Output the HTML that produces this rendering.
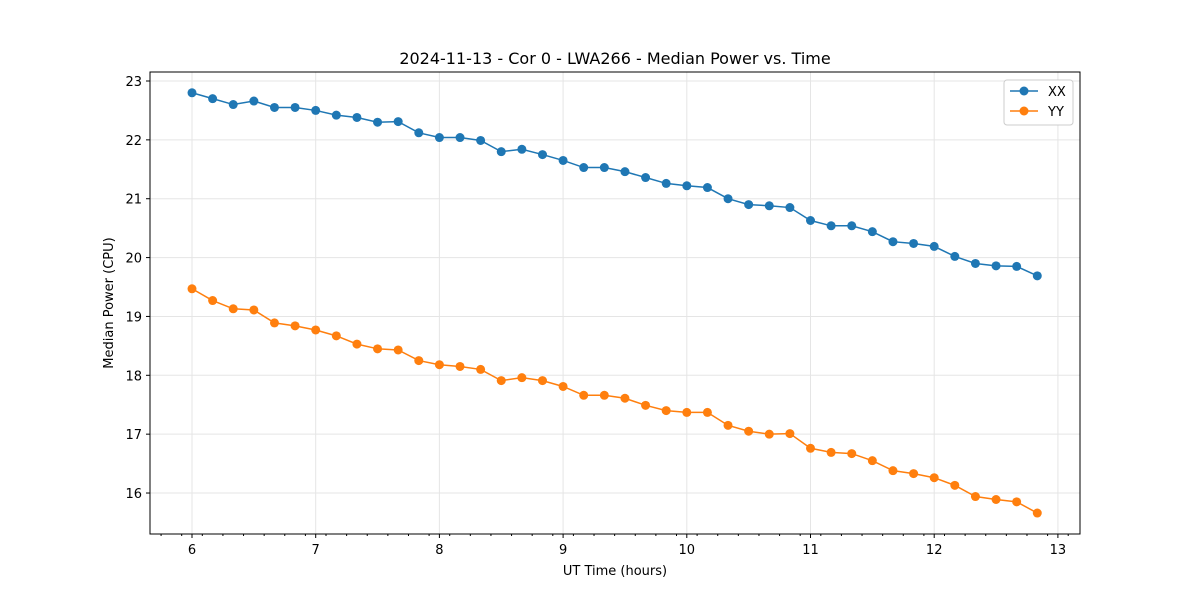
<!DOCTYPE html>
<html><head><meta charset="utf-8"><style>
body{margin:0;background:#fff;font-family:"Liberation Sans","DejaVu Sans",sans-serif;}
svg text{font-family:"DejaVu Sans","Liberation Sans",sans-serif;}
</style></head><body>
<svg id="chart" width="1200" height="600" xmlns="http://www.w3.org/2000/svg">
<rect width="1200" height="600" fill="#fff"/>
<text x="615" y="64" font-size="16" text-anchor="middle">2024-11-13 - Cor 0 - LWA266 - Median Power vs. Time</text>
<g id="grid"></g><g id="axes"></g><g id="series"></g>
<rect x="150" y="72" width="930" height="462" fill="none" stroke="#000" stroke-width="1"/>
<text x="615" y="575" font-size="13" text-anchor="middle">UT Time (hours)</text>
<text transform="translate(113,303) rotate(-90)" font-size="13" text-anchor="middle">Median Power (CPU)</text>
<g>
<rect x="1004" y="80" width="69" height="45" rx="3" fill="#fff" stroke="#ccc"/>
<g><line x1="1010" y1="91" x2="1038" y2="91" stroke="#1f77b4" stroke-width="1.5"/><circle cx="1024" cy="91" r="4.5" fill="#1f77b4"/><text x="1048" y="96" font-size="13">XX</text></g>
<g><line x1="1010" y1="111" x2="1038" y2="111" stroke="#ff7f0e" stroke-width="1.5"/><circle cx="1024" cy="111" r="4.5" fill="#ff7f0e"/><text x="1048" y="116" font-size="13">YY</text></g>
</g>
</svg>
<script>
const xxValues=[22.80,22.70,22.60,22.66,22.55,22.55,22.50,22.42,22.38,22.30,22.31,22.12,22.04,22.04,21.99,21.80,21.84,21.75,21.65,21.53,21.53,21.46,21.36,21.26,21.22,21.19,21.00,20.90,20.88,20.85,20.63,20.54,20.54,20.44,20.27,20.24,20.19,20.02,19.90,19.86,19.85,19.69];
const yyValues=[19.47,19.27,19.13,19.11,18.89,18.84,18.77,18.67,18.53,18.45,18.43,18.25,18.18,18.15,18.10,17.91,17.96,17.91,17.81,17.66,17.66,17.61,17.49,17.40,17.37,17.37,17.15,17.05,17.00,17.01,16.76,16.69,16.67,16.55,16.38,16.33,16.26,16.13,15.94,15.89,15.85,15.66];
const startHour=6, stepHours=1/6;
const xTicks=[6,7,8,9,10,11,12,13];
const yTicks=[16,17,18,19,20,21,22,23];
const NS="http://www.w3.org/2000/svg";
const xs=h=>192+(h-6)*123.7;
const ys=v=>81+(23-v)*58.86;
function mk(tag,attrs,parent){const e=document.createElementNS(NS,tag);for(const k in attrs)e.setAttribute(k,attrs[k]);document.getElementById(parent).appendChild(e);return e;}
xTicks.forEach(t=>{
 const g=mk('line',{x1:xs(t),x2:xs(t),y1:72,y2:534,stroke:'#e5e5e5','stroke-width':1},'grid');
 
 
 mk('line',{x1:xs(t),x2:xs(t),y1:534,y2:538,stroke:'#000'},'axes');
 const l=mk('text',{x:xs(t),y:554,'font-size':13,'text-anchor':'middle'},'axes');l.textContent=t;
 
 
});
for(let m=5.75;m<=13.1;m+=1/6){const x=xs(m);if(x>150&&x<1080)mk('line',{x1:x,x2:x,y1:534,y2:536,stroke:'#000'},'axes');}
yTicks.forEach(t=>{
 const g=mk('line',{x1:150,x2:1080,y1:ys(t),y2:ys(t),stroke:'#e5e5e5','stroke-width':1},'grid');
 
 
 mk('line',{x1:146,x2:150,y1:ys(t),y2:ys(t),stroke:'#000'},'axes');
 const l=mk('text',{x:142,y:ys(t)+5,'font-size':13,'text-anchor':'end'},'axes');l.textContent=t;
 
 
});
function series(vals,color,name){
 const pts=vals.map((v,i)=>xs(startHour+i*stepHours)+','+ys(v)).join(' ');
 const p=mk('polyline',{points:pts,fill:'none',stroke:color,'stroke-width':1.5},'series');
 
 
 vals.forEach((v,i)=>{
  const c=mk('circle',{cx:xs(startHour+i*stepHours),cy:ys(v),r:4.5,fill:color},'series');
  
  
 });
}
series(xxValues,'#1f77b4','xx');
series(yyValues,'#ff7f0e','yy');
</script>
</body></html>
